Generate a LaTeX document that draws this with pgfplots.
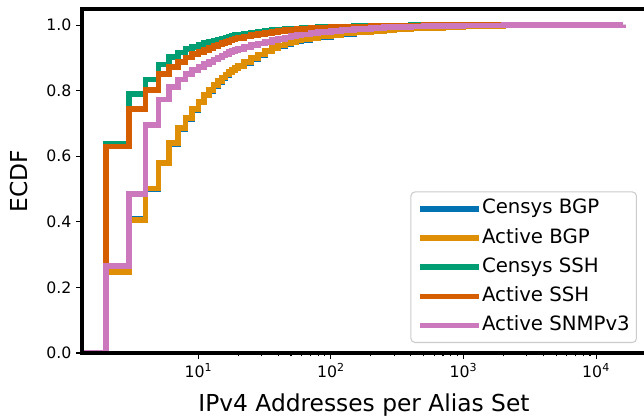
\documentclass[border=0pt]{standalone}
\usepackage{pgfplots}
\pgfplotsset{compat=1.18}
\usepackage{pgfplotstable}
\usepackage{fontspec}
\setmainfont{DejaVu Sans}
\newcommand{\legfont}{\fontsize{14.8}{17}\selectfont}

\definecolor{cblue}{HTML}{0173B2}
\definecolor{corange}{HTML}{DE8F05}
\definecolor{cgreen}{HTML}{029E73}
\definecolor{cred}{HTML}{D55E00}
\definecolor{cpink}{HTML}{CC78BC}

\pgfplotstableread{
x y
1 0
2 0.250
3 0.408
4 0.500
5 0.578
6 0.638
7 0.683
8 0.714
9 0.741
10 0.764
11 0.785
12 0.800
13 0.815
14 0.827
15 0.838
16 0.847
17 0.855
18 0.862
19 0.868
20 0.874
22 0.885
25 0.897
28 0.908
32 0.920
36 0.929
40 0.936
45 0.942
50 0.947
55 0.951
60 0.955
70 0.960
80 0.964
100 0.969
120 0.973
150 0.977
200 0.981
250 0.984
300 0.987
400 0.990
500 0.992
700 0.995
1000 0.997
1500 0.998
2000 0.999
3000 0.9994
5000 0.9997
10000 0.9999
16000 1.0
}\censysbgp

\pgfplotstableread{
x y
1 0
2 0.248
3 0.405
4 0.502
5 0.580
6 0.640
7 0.685
8 0.716
9 0.743
10 0.766
11 0.787
12 0.802
13 0.817
14 0.829
15 0.840
16 0.849
17 0.857
18 0.864
19 0.870
20 0.876
22 0.887
25 0.899
28 0.910
32 0.922
36 0.931
40 0.938
45 0.944
50 0.949
55 0.953
60 0.956
70 0.961
80 0.965
100 0.970
120 0.974
150 0.977
200 0.981
250 0.984
300 0.987
400 0.990
500 0.992
700 0.995
1000 0.997
1500 0.998
2000 0.999
3000 0.9994
5000 0.9997
10000 0.9999
16000 1.0
}\activebgp

\pgfplotstableread{
x y
1 0
2 0.637
3 0.790
4 0.834
5 0.880
6 0.903
7 0.916
8 0.926
9 0.934
10 0.940
11 0.945
12 0.949
13 0.953
14 0.956
15 0.959
16 0.962
17 0.965
18 0.967
19 0.969
20 0.971
22 0.974
25 0.977
28 0.979
32 0.982
36 0.984
40 0.986
45 0.987
50 0.988
55 0.989
60 0.990
70 0.992
80 0.993
100 0.995
120 0.996
150 0.997
200 0.998
250 0.9985
300 0.999
400 0.9993
500 0.9995
700 0.9997
1000 0.9998
1500 0.9999
2000 0.9999
3000 1.0
5000 1.0
10000 1.0
16000 1.0
}\censysssh

\pgfplotstableread{
x y
1 0
2 0.630
3 0.743
4 0.802
5 0.850
6 0.873
7 0.888
8 0.901
9 0.911
10 0.918
11 0.925
12 0.931
13 0.936
14 0.941
15 0.945
16 0.949
17 0.953
18 0.956
19 0.959
20 0.961
22 0.965
25 0.969
28 0.972
32 0.976
36 0.979
40 0.981
45 0.984
50 0.986
55 0.988
60 0.989
70 0.991
80 0.992
100 0.994
120 0.995
150 0.996
200 0.997
250 0.998
300 0.9985
400 0.999
500 0.9993
700 0.9995
1000 0.9997
1500 0.9998
2000 0.9999
3000 1.0
5000 1.0
10000 1.0
16000 1.0
}\activessh

\pgfplotstableread{
x y
1 0
2 0.265
3 0.485
4 0.695
5 0.773
6 0.812
7 0.834
8 0.851
9 0.863
10 0.873
11 0.881
12 0.888
13 0.895
14 0.901
15 0.907
16 0.912
17 0.917
18 0.921
19 0.925
20 0.928
22 0.933
25 0.939
28 0.944
32 0.949
36 0.954
40 0.958
45 0.962
50 0.966
55 0.969
60 0.971
70 0.975
80 0.978
100 0.982
120 0.985
150 0.988
200 0.991
250 0.993
300 0.995
400 0.996
500 0.997
700 0.998
1000 0.9985
1500 0.999
2000 0.9993
3000 0.9995
5000 0.9997
10000 0.9999
16000 1.0
}\activesnmp

\begin{document}
\begin{tikzpicture}
\begin{axis}[
  at={(61.5pt,48pt)}, anchor=south west,
  scale only axis, width=423pt, height=258pt,
  xmode=log, xmin=1.325, xmax=2.38e4,
  ymin=0, ymax=1.049,
  xtick={10,100,1000,10000},
  xticklabels={10\textsuperscript{1},10\textsuperscript{2},10\textsuperscript{3},10\textsuperscript{4}},
  ytick={0,0.2,0.4,0.6,0.8,1.0},
  yticklabels={0.0,0.2,0.4,0.6,0.8,1.0},
  tick pos=left, tick align=outside,
  major tick length=4.5pt, minor tick length=2.6pt,
  every tick/.style={black, line width=0.8pt},
  axis line style={line width=2.4pt},
  axis on top,
  xticklabel style={font=\fontsize{11.8}{14}\selectfont},
  yticklabel style={font=\fontsize{11.8}{14}\selectfont},
  xlabel={IPv4 Addresses per Alias Set},
  ylabel={ECDF},
  every axis x label/.style={at={(axis description cs:0.5,-0.1715)}, anchor=base, font=\fontsize{17.5}{20}\selectfont},
  every axis y label/.style={at={(axis description cs:-0.111,0.5)}, anchor=center, rotate=90, font=\fontsize{17.5}{20}\selectfont},
  legend style={at={(0.984,0.029)}, anchor=south east,
    draw=black!20, line width=0.8pt, rounded corners=3pt,
    fill=white, fill opacity=0.8, text opacity=1,
    inner xsep=5pt, inner ysep=1.7pt, row sep=0pt,
    nodes={inner xsep=0pt, inner ysep=3.7pt, text height=11pt, text depth=3.5pt},
    cells={anchor=west}},
  legend image code/.code={\draw[line width=4.3pt] (0pt,0pt) -- (34pt,0pt); \path (0pt,0pt) -- (44pt,0pt);},
  every axis plot/.append style={const plot, line width=4.3pt, no markers},
]
\addplot[cblue] table[x=x,y=y] {\censysbgp};
\addlegendentry{\legfont Censys BGP}
\addplot[corange] table[x=x,y=y] {\activebgp};
\addlegendentry{\legfont Active BGP}
\addplot[cgreen] table[x=x,y=y] {\censysssh};
\addlegendentry{\legfont Censys SSH}
\addplot[cred] table[x=x,y=y] {\activessh};
\addlegendentry{\legfont Active SSH}
\addplot[cpink] table[x=x,y=y] {\activesnmp};
\addlegendentry{\legfont Active SNMPv3}
\end{axis}
\pgfresetboundingbox
\useasboundingbox (0pt,0pt) rectangle (483pt,312.75pt);
\end{tikzpicture}
\end{document}
